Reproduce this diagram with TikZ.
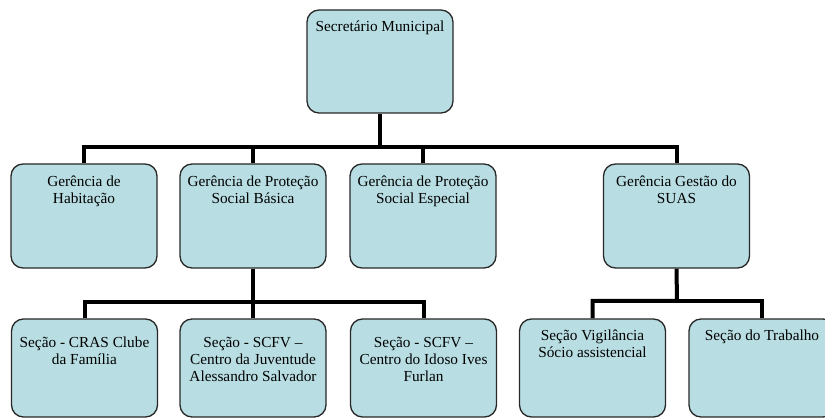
\documentclass[tikz,border=0pt]{standalone}
\usepackage{fontspec}
\setmainfont{Liberation Serif}
\definecolor{boxfill}{RGB}{184,222,227}
\definecolor{boxline}{RGB}{40,40,40}
\newcommand{\boxtxt}[3]{\parbox[c][#1][t]{140pt}{\centering\rule{0pt}{#2}#3}}
\pgfdeclarelayer{bg}
\pgfsetlayers{bg,main}
\tikzset{
  orgbox/.style={draw=boxline, line width=1.3pt, fill=boxfill, rounded corners=12pt,
    inner sep=0pt, minimum width=146pt, font=\rmfamily\fontsize{15.3}{16.7}\selectfont},
  conn/.style={line width=4pt, line join=miter}
}
\begin{document}
\begin{tikzpicture}[x=1pt,y=-1pt]
\useasboundingbox (0,0) rectangle (825,419);
\clip (0,0) rectangle (825,419);
\coordinate (bus1) at (380,147);
\coordinate (bus2) at (253,302);
\coordinate (bus3) at (677,301);
\node[orgbox, minimum height=103pt] (T) at (380,61.5) {\boxtxt{103pt}{21.5pt}{Secretário Municipal}};
\node[orgbox, minimum height=104pt] (A) at (84,216) {\boxtxt{104pt}{22.5pt}{Gerência de\\Habitação}};
\node[orgbox, minimum height=104pt] (B) at (253,216) {\boxtxt{104pt}{22.5pt}{Gerência de Proteção\\Social Básica}};
\node[orgbox, minimum height=104pt] (C) at (423,216) {\boxtxt{104pt}{22.5pt}{Gerência de Proteção\\Social Especial}};
\node[orgbox, minimum height=104pt] (D) at (676.5,216) {\boxtxt{104pt}{22.5pt}{Gerência Gestão do\\SUAS}};
\node[orgbox, minimum height=98pt] (E) at (84.5,368) {\boxtxt{98pt}{29pt}{Seção - CRAS Clube\\da Família}};
\node[orgbox, minimum height=98pt] (F) at (253,368) {\boxtxt{98pt}{29pt}{Seção - SCFV –\\Centro da Juventude\\Alessandro Salvador}};
\node[orgbox, minimum height=98pt] (G) at (423.5,368) {\boxtxt{98pt}{29pt}{Seção - SCFV –\\Centro do Idoso Ives\\Furlan}};
\node[orgbox, minimum height=98pt] (H) at (592.5,368) {\boxtxt{98pt}{21.5pt}{Seção Vigilância\\Sócio assistencial}};
\node[orgbox, minimum height=98pt] (I) at (762,368) {\boxtxt{98pt}{21.5pt}{Seção do Trabalho}};
\begin{pgfonlayer}{bg}
\draw[conn] (T.south) -- (bus1) -| (A.north);
\draw[conn] (bus1) -| (B.north);
\draw[conn] (bus1) -| (C.north);
\draw[conn] (bus1) -| (D.north);
\draw[conn] (B.south) -- (bus2) -| (E.north);
\draw[conn] (bus2) -| (F.north);
\draw[conn] (bus2) -| (G.north);
\draw[conn] (D.south) -- (bus3) -| (H.north);
\draw[conn] (bus3) -| (I.north);
\end{pgfonlayer}
\end{tikzpicture}
\end{document}
